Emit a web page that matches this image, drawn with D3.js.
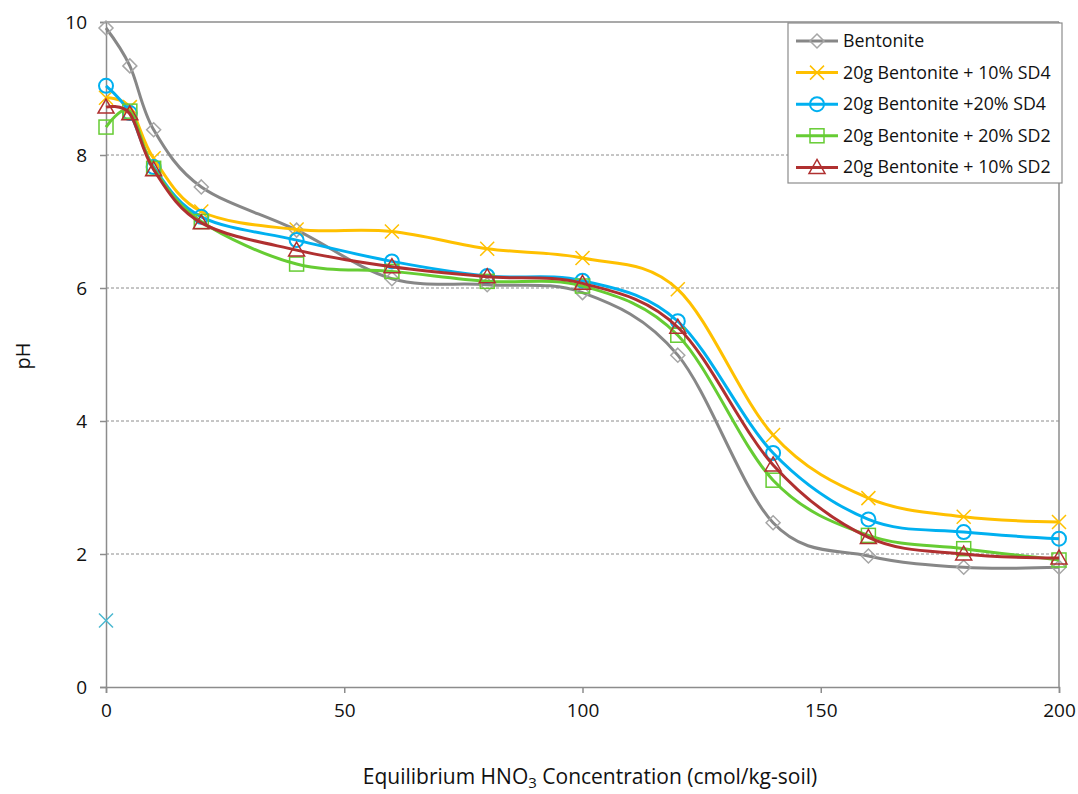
<!DOCTYPE html>
<html><head><meta charset="utf-8">
<script src="https://cdn.jsdelivr.net/npm/d3@7"></script>
<style>body{margin:0;background:#fff;} text{font-family:"Open Sans",sans-serif;}</style>
</head><body><svg id="c" width="1078" height="794"></svg>
<script>
const xValues = [0, 5, 10, 20, 40, 60, 80, 100, 120, 140, 160, 180, 200];
const bentonite = [9.91, 9.34, 8.38, 7.52, 6.87, 6.14, 6.05, 5.93, 4.99, 2.47, 1.97, 1.80, 1.80];
const sd4_10 = [8.86, 8.72, 7.95, 7.15, 6.88, 6.85, 6.59, 6.45, 5.98, 3.79, 2.84, 2.56, 2.48];
const sd4_20 = [9.04, 8.63, 7.82, 7.07, 6.72, 6.40, 6.18, 6.11, 5.50, 3.52, 2.52, 2.33, 2.23];
const sd2_20 = [8.42, 8.66, 7.80, 7.00, 6.36, 6.25, 6.10, 6.03, 5.29, 3.11, 2.28, 2.08, 1.91];
const sd2_10 = [8.72, 8.62, 7.78, 6.98, 6.57, 6.32, 6.17, 6.07, 5.41, 3.34, 2.25, 2.00, 1.94];
const strayX = [0];
const strayY = [1.0];
const seriesNames = ["Bentonite", "20g Bentonite + 10% SD4", "20g Bentonite +20% SD4", "20g Bentonite + 20% SD2", "20g Bentonite + 10% SD2"];
const xTicks = [0, 50, 100, 150, 200];
const yTicks = [0, 2, 4, 6, 8, 10];

const series = [
  {name: seriesNames[0], values: bentonite, color: "#878787", mcolor: "#a6a6a6", marker: "diamond"},
  {name: seriesNames[1], values: sd4_10, color: "#ffc000", mcolor: "#ffc000", marker: "x"},
  {name: seriesNames[2], values: sd4_20, color: "#00b0f0", mcolor: "#00b0f0", marker: "circle"},
  {name: seriesNames[3], values: sd2_20, color: "#66cc33", mcolor: "#66cc33", marker: "square"},
  {name: seriesNames[4], values: sd2_10, color: "#b03030", mcolor: "#b03030", marker: "triangle"}
];

const svg = d3.select("#c");
const L = 106, R = 1059, T = 22, B = 687;
const x = d3.scaleLinear().domain([0, 200]).range([L, R]);
const y = d3.scaleLinear().domain([0, 10]).range([B, T]);

// gridlines
svg.append("g").selectAll("line").data([2,4,6,8]).join("line")
  .attr("x1", L).attr("x2", R).attr("y1", d => y(d)).attr("y2", d => y(d))
  .attr("stroke", "#8c8c8c").attr("stroke-width", 1).attr("stroke-dasharray", "3,2");
// border top/right
svg.append("line").attr("x1", L).attr("x2", R).attr("y1", y(10)).attr("y2", y(10)).attr("stroke", "#8c8c8c").attr("stroke-width", 1.5);
svg.append("line").attr("x1", R).attr("x2", R).attr("y1", T).attr("y2", B).attr("stroke", "#8c8c8c").attr("stroke-width", 1.5);

// axes
const xAxis = svg.append("g").attr("transform", `translate(0,${B})`)
  .call(d3.axisBottom(x).tickValues(xTicks).tickSize(6).tickPadding(11));
const yAxis = svg.append("g").attr("transform", `translate(${L},0)`)
  .call(d3.axisLeft(y).tickValues(yTicks).tickSize(6).tickPadding(13));
[xAxis, yAxis].forEach(a => {
  a.select(".domain").attr("stroke", "#8c8c8c").attr("stroke-width", 1.5);
  a.selectAll(".tick line").attr("stroke", "#8c8c8c").attr("stroke-width", 1.5);
  a.selectAll("text").attr("font-size", 19).attr("fill", "#111")
    .style("font-family", "'Open Sans', sans-serif");
});

// axis titles
const xt = svg.append("text").attr("x", 590).attr("y", 784).attr("text-anchor", "middle")
  .attr("font-size", 21).attr("fill", "#111");
xt.append("tspan").text("Equilibrium HNO");
xt.append("tspan").text("3").attr("font-size", 15).attr("dy", 4);
xt.append("tspan").text(" Concentration (cmol/kg-soil)").attr("dy", -4);
svg.append("text").attr("transform", `translate(30,356) rotate(-90)`).attr("text-anchor", "middle")
  .attr("font-size", 20).attr("fill", "#111").text("pH");

const line = d3.line().curve(d3.curveCardinal.tension(0)).x(d => x(d[0])).y(d => y(d[1]));

function drawMarker(g, type, cx, cy, color) {
  const s = 7;
  if (type === "diamond") {
    g.append("path").attr("d", `M${cx},${cy-s}L${cx+s},${cy}L${cx},${cy+s}L${cx-s},${cy}Z`)
      .attr("fill", "none").attr("stroke", color).attr("stroke-width", 1.5);
  } else if (type === "x") {
    g.append("path").attr("d", `M${cx-s},${cy-s}L${cx+s},${cy+s}M${cx-s},${cy+s}L${cx+s},${cy-s}`)
      .attr("fill", "none").attr("stroke", color).attr("stroke-width", 1.5);
  } else if (type === "circle") {
    g.append("circle").attr("cx", cx).attr("cy", cy).attr("r", s)
      .attr("fill", "none").attr("stroke", color).attr("stroke-width", 2);
  } else if (type === "square") {
    g.append("rect").attr("x", cx-s).attr("y", cy-s).attr("width", 2*s).attr("height", 2*s)
      .attr("fill", "none").attr("stroke", color).attr("stroke-width", 1.5);
  } else if (type === "triangle") {
    g.append("path").attr("d", `M${cx},${cy-s-1}L${cx+s+1},${cy+s-1}L${cx-s-1},${cy+s-1}Z`)
      .attr("fill", "none").attr("stroke", color).attr("stroke-width", 1.5);
  }
}

series.forEach(s => {
  const pts = xValues.map((xv, i) => [xv, s.values[i]]);
  const g = svg.append("g");
  g.append("path").attr("d", line(pts)).attr("fill", "none").attr("stroke", s.color).attr("stroke-width", 3);
  pts.forEach(p => drawMarker(g, s.marker, x(p[0]), y(p[1]), s.mcolor));
});

// stray marker
strayX.forEach((xv, i) => {
  const g = svg.append("g");
  drawMarker(g, "x", x(xv), y(strayY[i]), "#4bb8d0");
});

// legend
const lg = svg.append("g");
lg.append("rect").attr("x", 788).attr("y", 23).attr("width", 274).attr("height", 160)
  .attr("fill", "#fff").attr("stroke", "#8c8c8c").attr("stroke-width", 1.2);
series.forEach((s, i) => {
  const cy = 41 + i * 31.6;
  lg.append("line").attr("x1", 796).attr("x2", 838).attr("y1", cy).attr("y2", cy)
    .attr("stroke", s.color).attr("stroke-width", 3);
  drawMarker(lg, s.marker, 817, cy, s.mcolor);
  lg.append("text").attr("x", 843).attr("y", cy + 6).attr("font-size", 17.8).attr("fill", "#111").text(s.name);
});
</script></body></html>
